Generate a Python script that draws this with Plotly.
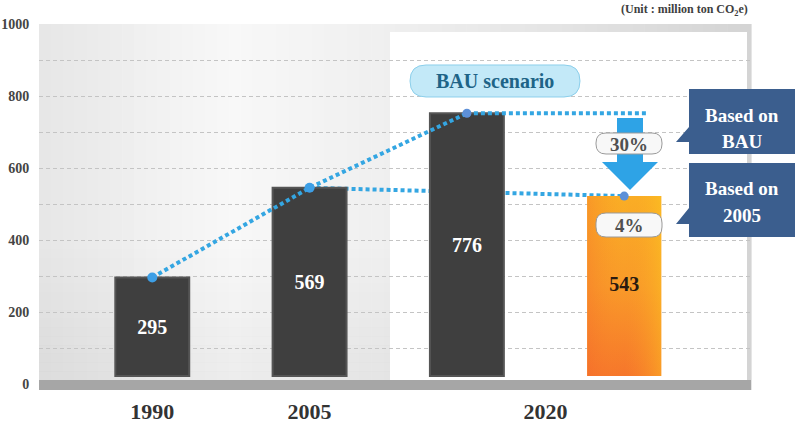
import plotly.graph_objects as go

# ---------------- data ----------------
categories = ["1990", "2005", "2020 BAU", "2020 target"]
bar_tops = [296, 545, 752, 522]          # bar top values as drawn
bar_labels = ["295", "569", "776", "543"]  # printed values
bar_base = 22
x_tick_text = ["1990", "2005", "2020"]
y_tick_step = 200
y_grid_step = 100
pct_labels = ["30%", "4%"]
callout_lines = [["Based on", "BAU"], ["Based on", "2005"]]
scenario_label = "BAU scenario"
unit_label = "(Unit : million ton CO<sub>2</sub>e)"

# ---------------- geometry helpers ----------------
W, H = 800, 424
L, R, T, B = 39, 751, 24, 390
XR = [-0.720, 3.806]
YR = [-16.667, 1000]
FONT = "Liberation Serif"

def fx(p):
    return (p - L) / (R - L)

def fy(p):
    return (B - p) / (B - T)

def path(points, close=True):
    s = "M " + " L ".join(f"{fx(x):.5f},{fy(y):.5f}" for x, y in points)
    return s + (" Z" if close else "")

def rrect(x0, y0, x1, y1, r):
    P = lambda x, y: f"{fx(x):.5f},{fy(y):.5f}"
    return (f"M {P(x0 + r, y0)} L {P(x1 - r, y0)} Q {P(x1, y0)} {P(x1, y0 + r)} "
            f"L {P(x1, y1 - r)} Q {P(x1, y1)} {P(x1 - r, y1)} L {P(x0 + r, y1)} "
            f"Q {P(x0, y1)} {P(x0, y1 - r)} L {P(x0, y0 + r)} Q {P(x0, y0)} {P(x0 + r, y0)} Z")

def lerp_color(stops, p):
    for (p0, c0), (p1, c1) in zip(stops, stops[1:]):
        if p0 <= p <= p1:
            t = (p - p0) / (p1 - p0)
            return "#" + "".join(f"{round(a + (b - a) * t):02x}" for a, b in zip(c0, c1))
    return "#" + "".join(f"{v:02x}" for v in stops[-1][1])

idx = list(range(len(categories)))
bar_w = 0.47

fig = go.Figure()

# line 2005 -> target (behind bars, base subplot)
dot = "4px,3px"
line_col = "#34a6e2"
fig.add_trace(go.Scatter(x=[idx[1], idx[3]], y=[bar_tops[1], bar_tops[3]], mode="lines",
                         line=dict(color=line_col, width=4, dash=dot),
                         hoverinfo="skip", showlegend=False))

# dark bars
fig.add_trace(go.Bar(x=idx[:3], y=[v - bar_base for v in bar_tops[:3]], base=bar_base,
                     width=bar_w, marker=dict(color="#3f3f3f", line=dict(color="#555555", width=2)),
                     text=bar_labels[:3], textposition="inside", insidetextanchor="middle",
                     textangle=0, constraintext="none",
                     textfont=dict(color="white", size=20, family=FONT, weight="bold"),
                     xaxis="x2", yaxis="y2", hoverinfo="skip", showlegend=False))
# orange bar
fig.add_trace(go.Bar(x=[idx[3]], y=[bar_tops[3] - bar_base], base=bar_base, width=bar_w,
                     marker=dict(color="#f99a28", line=dict(width=0)),
                     xaxis="x2", yaxis="y2", hoverinfo="skip", showlegend=False))
# gradient overlays for orange bar (vertical + horizontal tint -> diagonal look)
hx = bar_w / 2
poly_x = [idx[3] - hx, idx[3] + hx, idx[3] + hx, idx[3] - hx, idx[3] - hx]
poly_y = [bar_base, bar_base, bar_tops[3], bar_tops[3], bar_base]
fig.add_trace(go.Scatter(x=poly_x, y=poly_y, mode="lines", fill="toself", line=dict(width=0),
                         fillgradient=dict(type="vertical",
                                           colorscale=[[0, "#f6762b"], [0.5, "#f99a29"], [1, "#faae25"]]),
                         xaxis="x2", yaxis="y2", hoverinfo="skip", showlegend=False))
fig.add_trace(go.Scatter(x=poly_x, y=poly_y, mode="lines", fill="toself", line=dict(width=0),
                         fillgradient=dict(type="horizontal",
                                           colorscale=[[0, "rgba(244,100,44,0.30)"],
                                                       [0.5, "rgba(249,150,40,0.0)"],
                                                       [1, "rgba(253,200,32,0.45)"]]),
                         xaxis="x2", yaxis="y2", hoverinfo="skip", showlegend=False))
fig.add_trace(go.Scatter(x=[idx[3]], y=[(bar_base + bar_tops[3]) / 2], mode="text",
                         text=[bar_labels[3]],
                         textfont=dict(color="#2a1a10", size=20, family=FONT, weight="bold"),
                         xaxis="x2", yaxis="y2", hoverinfo="skip", showlegend=False))

# trend 1990 -> 2005 -> BAU
fig.add_trace(go.Scatter(x=idx[:3], y=bar_tops[:3], mode="lines",
                         line=dict(color=line_col, width=4, dash=dot),
                         xaxis="x2", yaxis="y2", hoverinfo="skip", showlegend=False))
# BAU flat reference
fig.add_trace(go.Scatter(x=[idx[2], idx[3] + 0.15], y=[bar_tops[2], bar_tops[2]], mode="lines",
                         line=dict(color=line_col, width=4, dash=dot),
                         xaxis="x2", yaxis="y2", hoverinfo="skip", showlegend=False))
# markers
fig.add_trace(go.Scatter(x=idx[:2], y=bar_tops[:2], mode="markers",
                         marker=dict(color="#3d9fe6", size=10),
                         xaxis="x2", yaxis="y2", hoverinfo="skip", showlegend=False))
fig.add_trace(go.Scatter(x=idx[2:], y=bar_tops[2:], mode="markers",
                         marker=dict(color="#5d90d8", size=9),
                         xaxis="x2", yaxis="y2", hoverinfo="skip", showlegend=False))

# ---------------- shapes ----------------
shapes = []
stops = [(39, (0xe6, 0xe6, 0xe6)), (230, (0xf8, 0xf8, 0xf8)), (390, (0xef, 0xef, 0xef)),
         (560, (0xe4, 0xe4, 0xe4)), (751, (0xd4, 0xd4, 0xd4))]
n = 60
step = (R - L) / n
for i in range(n):
    x0 = L + i * step
    c = lerp_color(stops, x0 + step / 2)
    shapes.append(dict(type="rect", xref="paper", yref="paper", x0=fx(x0), x1=fx(x0 + step + 0.6),
                       y0=fy(B), y1=fy(T), fillcolor=c, line=dict(width=0), layer="below"))
# slight darkening toward the bottom of the grey panel
m = 16
ystep = (380 - 240) / m
for j in range(m):
    y0 = 240 + j * ystep
    a = 0.045 * (j + 0.5) / m
    shapes.append(dict(type="rect", xref="paper", yref="paper", x0=fx(39), x1=fx(390),
                       y0=fy(y0 + ystep + 0.3), y1=fy(y0), fillcolor=f"rgba(0,0,0,{a:.4f})",
                       line=dict(width=0), layer="below"))
# white panel
shapes.append(dict(type="rect", xref="paper", yref="paper", x0=fx(390), x1=fx(747),
                   y0=fy(380), y1=fy(32), fillcolor="white", line=dict(width=0), layer="below"))
# axis band
shapes.append(dict(type="rect", xref="paper", yref="paper", x0=fx(39), x1=fx(751),
                   y0=fy(390), y1=fy(380), fillcolor="#a6a6a6", line=dict(width=0), layer="above"))
# arrow
shapes.append(dict(type="path", xref="paper", yref="paper",
                   path=path([(617, 118), (643, 118), (643, 162), (658, 162), (630, 190),
                              (602, 162), (617, 162)]),
                   fillcolor="#2ea3e6", line=dict(width=0), layer="above"))
# pills
for (y0, y1) in [(133, 154), (213, 237)]:
    shapes.append(dict(type="path", xref="paper", yref="paper", path=rrect(596, y0, 662, y1, 10),
                       fillcolor="#f8f8f8", line=dict(color="#9a9a9a", width=1), layer="above"))
# BAU scenario pill
shapes.append(dict(type="path", xref="paper", yref="paper", path=rrect(410, 65, 580, 97, 16),
                   fillcolor="#c3e9f8", line=dict(color="#8ccfeb", width=1), layer="above"))
# callouts
callout_col = "#3b5e8e"
shapes.append(dict(type="path", xref="paper", yref="paper",
                   path=path([(689, 89), (795, 89), (795, 154), (689, 154), (689, 142),
                              (676, 142), (689, 127)]),
                   fillcolor=callout_col, line=dict(width=0), layer="above"))
shapes.append(dict(type="path", xref="paper", yref="paper",
                   path=path([(689, 163), (795, 163), (795, 237), (689, 237), (689, 224),
                              (676, 224), (689, 208)]),
                   fillcolor=callout_col, line=dict(width=0), layer="above"))

# ---------------- annotations ----------------
ann = []
def note(text, x, y, size, color, xanchor="center"):
    ann.append(dict(text=f"<b>{text}</b>", x=fx(x), y=fy(y), xref="paper", yref="paper",
                    showarrow=False, xanchor=xanchor, yanchor="middle",
                    font=dict(family=FONT, size=size, color=color)))

note(pct_labels[0], 629, 144, 19, "#505050")
note(pct_labels[1], 629, 225, 19, "#505050")
note(scenario_label, 495, 81, 20, "#1e6487")
note(callout_lines[0][0], 742, 115, 19, "white")
note(callout_lines[0][1], 742, 141, 19, "white")
note(callout_lines[1][0], 742, 189, 19, "white")
note(callout_lines[1][1], 742, 215, 19, "white")
note(unit_label, 750, 10, 12, "#404040", xanchor="right")

grid_dash = "4px,3px"
fig.update_layout(
    width=W, height=H, autosize=False,
    margin=dict(l=L, r=W - R, t=T, b=H - B, pad=0),
    paper_bgcolor="white", plot_bgcolor="white",
    showlegend=False, barmode="overlay",
    shapes=shapes, annotations=ann,
    xaxis=dict(range=XR, tickvals=[0, 1, 2.5], ticktext=x_tick_text, showgrid=False,
               zeroline=False, showline=False, ticks="outside", ticklen=2,
               tickcolor="rgba(0,0,0,0)", automargin=False,
               tickfont=dict(family=FONT, size=22, color="#333333", weight="bold"),
               fixedrange=True),
    yaxis=dict(range=YR, tick0=0, dtick=y_tick_step, showgrid=True,
               gridcolor="#c4c4c4", griddash=grid_dash, gridwidth=1, zeroline=False,
               showline=False, ticks="outside", ticklen=6, tickcolor="rgba(0,0,0,0)",
               minor=dict(tick0=0, dtick=y_grid_step, showgrid=True, gridcolor="#c4c4c4",
                          griddash=grid_dash, gridwidth=1, ticks=""),
               automargin=False,
               tickfont=dict(family=FONT, size=14, color="#444444", weight="bold"),
               fixedrange=True),
    xaxis2=dict(range=XR, overlaying="x", anchor="y2", visible=False, fixedrange=True),
    yaxis2=dict(range=YR, overlaying="y", anchor="x2", visible=False, fixedrange=True),
)

fig.write_html("out.html")
